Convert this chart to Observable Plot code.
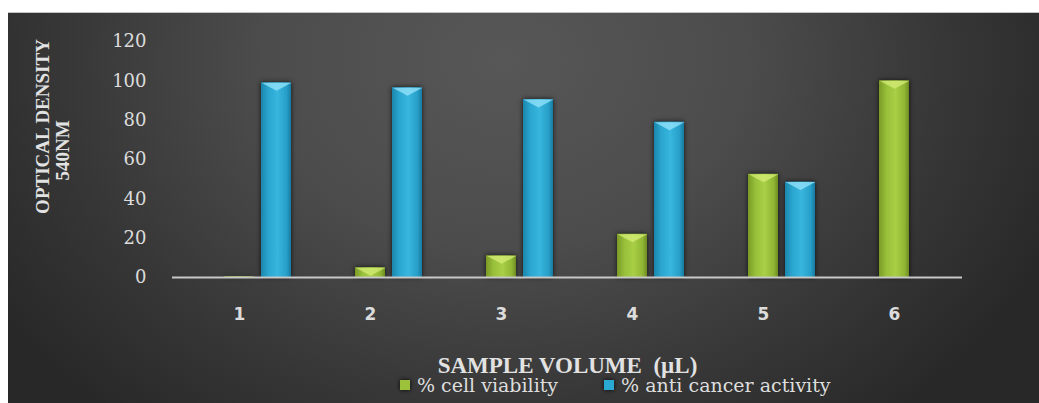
<!DOCTYPE html>
<html>
<head>
<meta charset="utf-8">
<script src="https://cdn.jsdelivr.net/npm/d3@7"></script>
<script src="https://cdn.jsdelivr.net/npm/@observablehq/plot@0.6"></script>
<style>
  html, body { margin: 0; padding: 0; background: #ffffff; width: 1039px; height: 403px; overflow: hidden; }
  #chart {
    position: absolute; left: 8px; top: 12px; width: 1031px; height: 391px;
    border-top: 1px solid #c4c4c4;
    background: radial-gradient(ellipse 58% 120% at 48% 12%, #575757 0%, #4c4c4c 40%, #363636 75%, #282828 100%);
    overflow: hidden;
  }
  #chart svg.main { position: absolute; left: 0; top: -1px; }
  #legend { position: absolute; left: 392px; top: 355px; }
  .lg-swatch { margin-right: 46px !important; }
  .lg-swatch > svg { margin-right: 7px !important; filter: drop-shadow(0 0 2px rgba(0,0,0,0.9)); }
  g[aria-label="bar"] { filter: drop-shadow(0 0 2.5px rgba(0,0,0,0.75)); }
</style>
</head>
<body>
<div id="chart"></div>
<script>
// ---- data ----
const categories = ["1", "2", "3", "4", "5", "6"];
const cellViability = [0.4, 5, 11, 22, 52.5, 100];
const antiCancer = [99, 96.5, 90.5, 79, 48.5, null];
const seriesNames = ["% cell viability", "% anti cancer activity"];
const seriesColors = ["#9bc23a", "#2aa8d2"];
const yTicks = [0, 20, 40, 60, 80, 100, 120];
const yTitleLines = ["OPTICAL DENSITY", "540NM"];
const xTitle = "SAMPLE VOLUME  (µL)";

const greenData = categories.map((c, i) => ({cat: c, value: cellViability[i]}));
const blueData = categories.map((c, i) => ({cat: c, value: antiCancer[i]})).filter(d => d.value != null);

const ns = "http://www.w3.org/2000/svg";
const defsMark = () => {
  const defs = document.createElementNS(ns, "defs");
  defs.innerHTML = `
    <linearGradient id="gGreen" x1="0" x2="1" y1="0" y2="0">
      <stop offset="0" stop-color="#7a9a26"/>
      <stop offset="0.25" stop-color="#98c03a"/>
      <stop offset="0.55" stop-color="#a8cf45"/>
      <stop offset="0.85" stop-color="#90b634"/>
      <stop offset="1" stop-color="#6f8d22"/>
    </linearGradient>
    <linearGradient id="gBlue" x1="0" x2="1" y1="0" y2="0">
      <stop offset="0" stop-color="#1b86ab"/>
      <stop offset="0.25" stop-color="#2aa6d0"/>
      <stop offset="0.55" stop-color="#38b6de"/>
      <stop offset="0.85" stop-color="#279fc8"/>
      <stop offset="1" stop-color="#177aa0"/>
    </linearGradient>`;
  return defs;
};

// V-shaped highlight symbol at bar top
const vSymbol = {
  draw(context) {
    context.moveTo(-15, 0);
    context.lineTo(15, 0);
    context.lineTo(0, 8);
    context.closePath();
  }
};

const blueDx = 37;
const fontSerif = "'DejaVu Serif', serif";
const titleFont = "'Liberation Serif', serif";

const plot = Plot.plot({
  width: 1031,
  height: 375,
  marginTop: 29,
  marginBottom: 110,
  marginLeft: 164,
  marginRight: 77,
  style: {background: "transparent", color: "#dedede", fontFamily: fontSerif, overflow: "visible"},
  x: {type: "band", domain: categories, paddingInner: 0.77, paddingOuter: 0.385},
  y: {domain: [0, 120], ticks: yTicks},
  marks: [
    defsMark,
    Plot.axisY({ticks: yTicks, tickSize: 0, tickPadding: 26, fontSize: 18, fontFamily: fontSerif, fill: "#dcdcdc", label: null}),
    Plot.axisX({tickSize: 0, tickPadding: 30, fontSize: 17, fontWeight: "bold", fontFamily: "'DejaVu Sans', sans-serif", fill: "#dcdcdc", label: null}),
    Plot.barY(greenData, {x: "cat", y: "value", fill: "url(#gGreen)"}),
    Plot.barY(blueData, {x: "cat", y: "value", fill: "url(#gBlue)", dx: blueDx}),
    Plot.dot(greenData.filter(d => d.value > 2), {x: "cat", y: "value", symbol: vSymbol, fill: "#d8f07a", fillOpacity: 0.7, stroke: "none"}),
    Plot.dot(blueData, {x: "cat", y: "value", symbol: vSymbol, fill: "#9ee8ff", fillOpacity: 0.7, stroke: "none", dx: blueDx}),
    Plot.ruleY([0], {stroke: "#c8c8c8", strokeWidth: 2}),
    Plot.text([yTitleLines[0]], {frameAnchor: "left", text: d => d, rotate: -90, textAnchor: "middle", dx: -130, dy: -33, fontSize: 19, fontWeight: "bold", fontFamily: titleFont, fill: "#e2e2e2", lineAnchor: "middle"}),
    Plot.text([yTitleLines[1]], {frameAnchor: "left", text: d => d, rotate: -90, textAnchor: "middle", dx: -110, dy: -9, fontSize: 19, fontWeight: "bold", fontFamily: titleFont, fill: "#e2e2e2", lineAnchor: "middle"}),
    Plot.text([xTitle], {frameAnchor: "bottom", text: d => d, dy: 88, fontSize: 23, fontWeight: "bold", fontFamily: titleFont, fill: "#e2e2e2", lineAnchor: "middle"})
  ]
});
plot.classList.add("main");
document.getElementById("chart").appendChild(plot);

const legend = Plot.legend({
  color: {domain: seriesNames, range: seriesColors},
  legend: "swatches",
  swatchSize: 10,
  className: "lg",
  style: {fontFamily: fontSerif, fontSize: "19px", color: "#dedede", background: "transparent"}
});
legend.id = "legend";
document.getElementById("chart").appendChild(legend);
</script>
</body>
</html>
